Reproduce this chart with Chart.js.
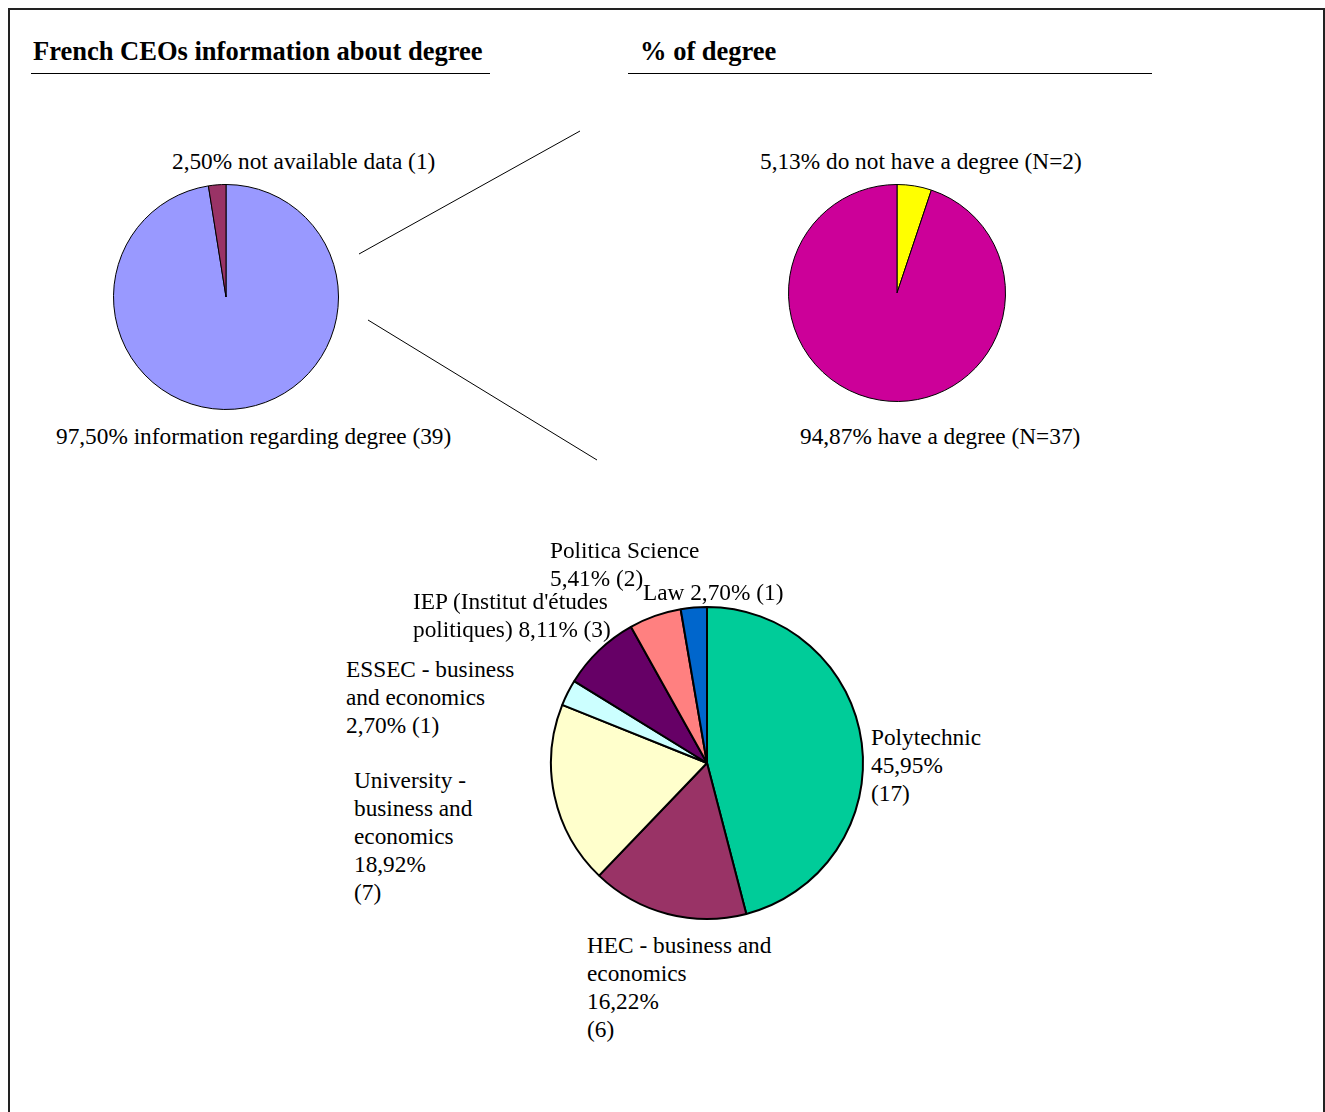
<!DOCTYPE html>
<html lang="en">
<head>
  <meta charset="utf-8">
  <title>French CEOs - degree</title>
  <style>
    body { margin: 0; background: #fff; font-family: "Liberation Serif", "Times New Roman", serif; }
    #page { position: relative; width: 1325px; height: 1112px; overflow: hidden; }
    #frame { position: absolute; left: 8px; top: 8px; width: 1313px; height: 1200px;
             border: 2px solid #222; border-bottom: none; }
    .title { position: absolute; font-weight: bold; font-size: 26.5px; line-height: 28px; white-space: nowrap; }
    .rule { position: absolute; height: 0; border-top: 1px solid #000; }
    .lbl { position: absolute; font-size: 23.3px; line-height: 28px; white-space: nowrap; color: #000; }
    canvas { position: absolute; }
    svg { position: absolute; left: 0; top: 0; }
  </style>
</head>
<body>
<div id="page">
  <div id="frame"></div>
  <div class="title" style="left:33px; top:37px;">French CEOs information about degree</div>
  <div class="rule" style="left:31px; top:73px; width:459px;"></div>
  <div class="title" style="left:640px; top:37px;">% of degree</div>
  <div class="rule" style="left:628px; top:73px; width:524px;"></div>

  <svg width="1325" height="1112">
    <line x1="359" y1="254" x2="580" y2="131" stroke="#000" stroke-width="1"/>
    <line x1="368" y1="320" x2="597" y2="460" stroke="#000" stroke-width="1"/>
  </svg>

  <canvas id="pieInfo"></canvas>
  <canvas id="pieDegree"></canvas>
  <canvas id="pieSchool"></canvas>
</div>

<script src="https://cdn.jsdelivr.net/npm/chart.js@4"></script>
<script>
  // CEOs with / without degree information
  var infoLabels = ['information regarding degree', 'not available data'];
  var infoPct = [97.50, 2.50];
  var infoCount = [39, 1];

  // degree holders among those with information
  var degreeLabels = ['do not have a degree', 'have a degree'];
  var degreePct = [5.13, 94.87];
  var degreeCount = [2, 37];

  // breakdown of degrees by school
  var schoolLabels = ['Polytechnic', 'HEC - business and economics', 'University - business and economics',
    'ESSEC - business and economics', "IEP (Institut d'études politiques)", 'Politica Science', 'Law'];
  var schoolPct = [45.95, 16.22, 18.92, 2.70, 8.11, 5.41, 2.70];
  var schoolCount = [17, 6, 7, 1, 3, 2, 1];

  function pct(v) { return v.toFixed(2).replace('.', ',') + '%'; }

  function makePie(id, cx, cy, r, values, colors, border) {
    var pad = 6;
    var el = document.getElementById(id);
    var size = 2 * r + 2 * pad;
    el.width = size; el.height = size;
    el.style.width = size + 'px'; el.style.height = size + 'px';
    el.style.left = (cx - r - pad) + 'px';
    el.style.top = (cy - r - pad) + 'px';
    return new Chart(el.getContext('2d'), {
      type: 'pie',
      data: {
        datasets: [{
          data: values,
          backgroundColor: colors,
          borderColor: '#000',
          borderWidth: border
        }]
      },
      options: {
        responsive: false,
        animation: false,
        layout: { padding: pad },
        plugins: { legend: { display: false }, tooltip: { enabled: false } }
      }
    });
  }

  makePie('pieInfo', 226, 297, 113, infoPct, ['#9999FF', '#993366'], 1);
  makePie('pieDegree', 897, 293, 109, degreePct, ['#FFFF00', '#CC0099'], 1);
  makePie('pieSchool', 707, 763, 157, schoolPct,
    ['#00CC99', '#993366', '#FFFFCC', '#CCFFFF', '#660066', '#FF8080', '#0066CC'], 2);

  // text labels around the pies
  var page = document.getElementById('page');
  function label(x, y, lines) {
    var d = document.createElement('div');
    d.className = 'lbl';
    d.style.left = x + 'px';
    d.style.top = (y - 14) + 'px';
    d.innerHTML = lines.map(function (s) {
      return s.replace(/&/g, '&amp;').replace(/</g, '&lt;');
    }).join('<br>');
    page.appendChild(d);
  }

  label(172, 161, [pct(infoPct[1]) + ' ' + infoLabels[1] + ' (' + infoCount[1] + ')']);
  label(56, 436, [pct(infoPct[0]) + ' ' + infoLabels[0] + ' (' + infoCount[0] + ')']);
  label(760, 161, [pct(degreePct[0]) + ' ' + degreeLabels[0] + ' (N=' + degreeCount[0] + ')']);
  label(800, 436, [pct(degreePct[1]) + ' ' + degreeLabels[1] + ' (N=' + degreeCount[1] + ')']);

  label(871, 737, ['Polytechnic', pct(schoolPct[0]), '(' + schoolCount[0] + ')']);
  label(587, 945, ['HEC - business and', 'economics', pct(schoolPct[1]), '(' + schoolCount[1] + ')']);
  label(354, 780, ['University -', 'business and', 'economics', pct(schoolPct[2]), '(' + schoolCount[2] + ')']);
  label(346, 669, ['ESSEC - business', 'and economics', pct(schoolPct[3]) + ' (' + schoolCount[3] + ')']);
  label(413, 601, ["IEP (Institut d'études", 'politiques) ' + pct(schoolPct[4]) + ' (' + schoolCount[4] + ')']);
  label(550, 550, ['Politica Science', pct(schoolPct[5]) + ' (' + schoolCount[5] + ')']);
  label(643, 592, ['Law ' + pct(schoolPct[6]) + ' (' + schoolCount[6] + ')']);
</script>
</body>
</html>
